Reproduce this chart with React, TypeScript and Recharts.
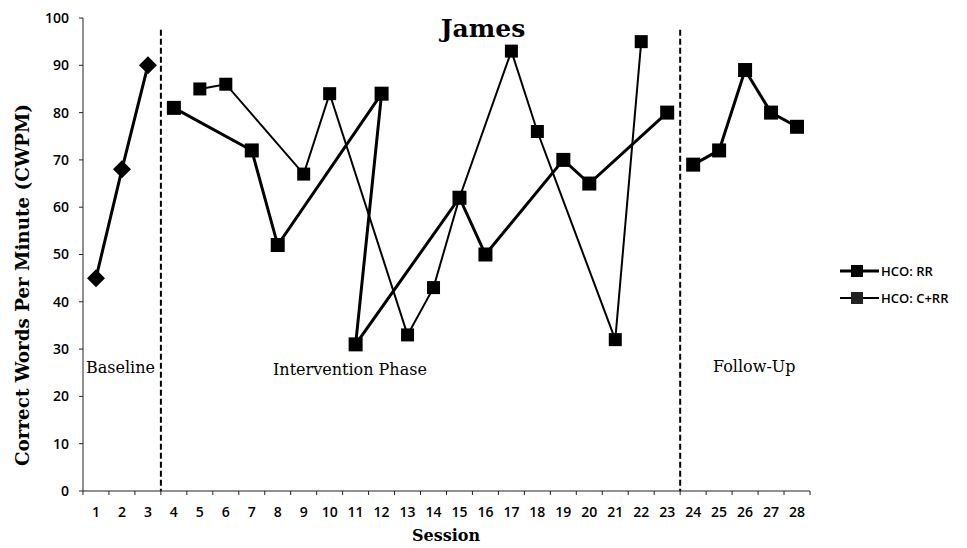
import React from "react";
import { LineChart, Line, XAxis, YAxis, ReferenceLine } from "recharts";

const sessions = [1, 2, 3, 4, 5, 6, 7, 8, 9, 10, 11, 12, 13, 14, 15, 16, 17, 18, 19, 20, 21, 22, 23, 24, 25, 26, 27, 28];
const yTicks = [0, 10, 20, 30, 40, 50, 60, 70, 80, 90, 100];

const baselineSessions = [1, 2, 3];
const baselineValues = [45, 68, 90];

// points are joined in the order given, like the original scatter-with-lines
const rrSessions = [4, 7, 8, 12, 11, 15, 16, 19, 20, 23];
const rrValues = [81, 72, 52, 84, 31, 62, 50, 70, 65, 80];

const crrSessions = [5, 6, 9, 10, 13, 14, 15, 17, 18, 21, 22];
const crrValues = [85, 86, 67, 84, 33, 43, 62, 93, 76, 32, 95];

const followSessions = [24, 25, 26, 27, 28];
const followValues = [69, 72, 89, 80, 77];

const phaseBreaks = [3.5, 23.5];
const phaseLabels = ["Baseline", "Intervention Phase", "Follow-Up"];
const legendNames = ["HCO: RR", "HCO: C+RR"];

const toRows = (xs: number[], ys: number[]) => xs.map((session, i) => ({ session, value: ys[i] }));

const baselineData = toRows(baselineSessions, baselineValues);
const rrData = toRows(rrSessions, rrValues);
const crrData = toRows(crrSessions, crrValues);
const followData = toRows(followSessions, followValues);

const SERIF = "'DejaVu Serif', 'Liberation Serif', serif";
const SANS = "'Open Sans', 'Liberation Sans', sans-serif";

const squareDot = (size: number) => (props: any) => {
  const { cx, cy, index } = props;
  if (cx == null || cy == null) return <g key={`n-${index}`} />;
  return <rect key={`s-${index}`} x={cx - size / 2} y={cy - size / 2} width={size} height={size} fill="#000" />;
};

const diamondDot = (props: any) => {
  const { cx, cy, index } = props;
  if (cx == null || cy == null) return <g key={`n-${index}`} />;
  const r = 9;
  return (
    <polygon
      key={`d-${index}`}
      points={`${cx},${cy - r} ${cx + r},${cy} ${cx},${cy + r} ${cx - r},${cy}`}
      fill="#000"
    />
  );
};

const XTick = (props: any) => {
  const { x, y, payload, index } = props;
  const half = 13;
  return (
    <g>
      <line x1={x - half} x2={x - half} y1={y} y2={y + 4} stroke="#222" />
      {index === sessions.length - 1 && <line x1={x + half} x2={x + half} y1={y} y2={y + 4} stroke="#222" />}
      <text x={x} y={y + 26} textAnchor="middle" fill="#000" fontSize={14} fontWeight={600} fontFamily={SANS}>
        {payload.value}
      </text>
    </g>
  );
};

export default function App() {
  return (
    <div style={{ position: "absolute", left: 0, top: 0, width: 967, height: 548, background: "#fff" }}>
      <LineChart width={967} height={548} margin={{ top: 18, right: 157, bottom: 0, left: 0 }}>
        <XAxis
          type="number"
          dataKey="session"
          domain={[0.5, 28.5]}
          ticks={sessions}
          interval={0}
          tick={XTick}
          tickLine={false}
          tickSize={0}
          tickMargin={0}
          height={57}
          axisLine={{ stroke: "#222" }}
        />
        <YAxis
          type="number"
          domain={[0, 100]}
          ticks={yTicks}
          interval={0}
          width={83}
          tickSize={4}
          tickMargin={10}
          axisLine={{ stroke: "#222" }}
          tickLine={{ stroke: "#222" }}
          tick={{ fill: "#000", fontSize: 14, fontWeight: 600, fontFamily: SANS }}
        />
        {phaseBreaks.map((b) => (
          <ReferenceLine
            key={b}
            segment={[{ x: b, y: 97.5 }, { x: b, y: 0 }]}
            stroke="#000"
            strokeWidth={2}
            strokeDasharray="6 3"
          />
        ))}
        <Line data={baselineData} dataKey="value" type="linear" stroke="#000" strokeWidth={3}
          dot={diamondDot} activeDot={false} isAnimationActive={false} />
        <Line data={crrData} dataKey="value" name={legendNames[1]} type="linear" stroke="#000" strokeWidth={2}
          dot={squareDot(13)} activeDot={false} isAnimationActive={false} />
        <Line data={rrData} dataKey="value" name={legendNames[0]} type="linear" stroke="#000" strokeWidth={3}
          dot={squareDot(14)} activeDot={false} isAnimationActive={false} />
        <Line data={followData} dataKey="value" type="linear" stroke="#000" strokeWidth={3}
          dot={squareDot(14)} activeDot={false} isAnimationActive={false} />
      </LineChart>

      <svg width={967} height={548} style={{ position: "absolute", left: 0, top: 0, pointerEvents: "none" }}>
        <text x={483} y={37} textAnchor="middle" fontFamily={SERIF} fontWeight="bold" fontSize={25} fill="#000">
          James
        </text>
        <text
          x={22}
          y={285}
          transform="rotate(-90 22 285)"
          textAnchor="middle"
          dominantBaseline="central"
          fontFamily={SERIF}
          fontWeight="bold"
          fontSize={18}
          textLength={362}
          lengthAdjust="spacingAndGlyphs"
          fill="#000"
        >
          Correct Words Per Minute (CWPM)
        </text>
        <text x={446} y={541} textAnchor="middle" fontFamily={SERIF} fontWeight="bold" fontSize={16} fill="#000">
          Session
        </text>
        <text x={86} y={373} fontFamily={SERIF} fontSize={16} fill="#000">{phaseLabels[0]}</text>
        <text x={273} y={375} fontFamily={SERIF} fontSize={16} fill="#000">{phaseLabels[1]}</text>
        <text x={713} y={372} fontFamily={SERIF} fontSize={16} fill="#000">{phaseLabels[2]}</text>

        {legendNames.map((name, i) => {
          const cy = 271 + i * 27;
          const w = i === 0 ? 3 : 2;
          return (
            <g key={name}>
              <line x1={840} x2={879} y1={cy} y2={cy} stroke="#000" strokeWidth={w} />
              <rect x={851} y={cy - 6} width={12} height={12} fill={i === 0 ? "#000" : "#222"} />
              <text x={881} y={cy + 5} fontFamily={SANS} fontWeight={600} fontSize={13} fill="#000">
                {name}
              </text>
            </g>
          );
        })}
      </svg>
    </div>
  );
}
